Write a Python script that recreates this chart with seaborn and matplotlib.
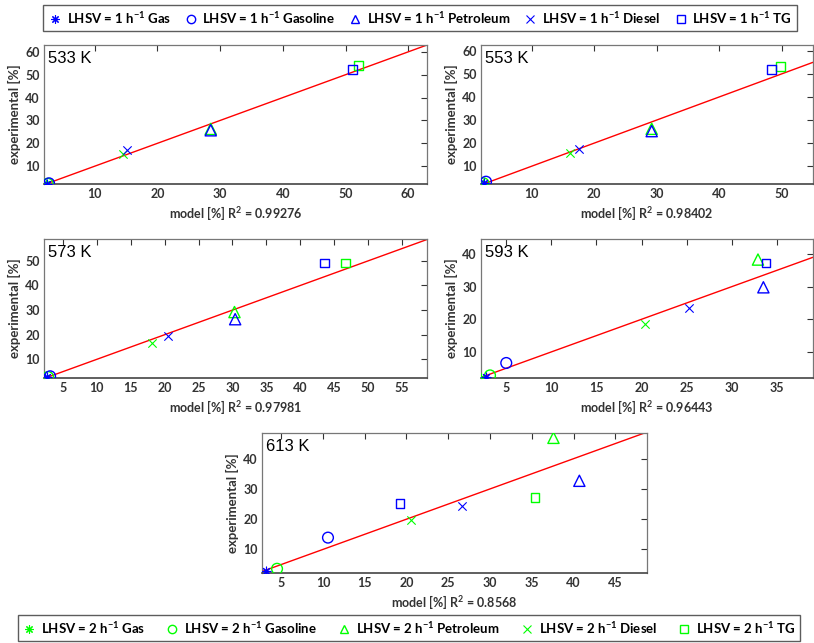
import numpy as np
import pandas as pd
import matplotlib
matplotlib.use("Agg")
import matplotlib.pyplot as plt
from matplotlib.lines import Line2D
import seaborn as sns

temps = ["533 K", "553 K", "573 K", "593 K", "613 K"]
r2 = ["0.99276", "0.98402", "0.97981", "0.96443", "0.8568"]
products = ["Gas", "Gasoline", "Petroleum", "Diesel", "TG"]

# model / experimental values, order = products
lhsv1_model = [
    [2.3, 2.7, 28.5, 15.2, 51.1],
    [2.4, 2.7, 29.2, 17.5, 48.4],
    [2.7, 3.1, 30.4, 20.5, 43.6],
    [2.8, 5.0, 33.5, 25.2, 33.8],
    [3.2, 10.6, 40.7, 26.7, 19.2],
]
lhsv1_exp = [
    [2.3, 2.5, 25.7, 16.9, 52.4],
    [2.8, 3.3, 25.2, 17.6, 51.8],
    [2.8, 3.1, 26.3, 19.3, 49.1],
    [2.3, 6.6, 29.8, 23.4, 37.3],
    [3.0, 13.9, 32.7, 24.3, 25.2],
]
lhsv2_model = [
    [2.2, 2.5, 28.5, 14.5, 52.1],
    [2.2, 2.3, 29.2, 16.2, 49.8],
    [2.4, 2.8, 30.3, 18.2, 46.7],
    [2.2, 3.2, 32.9, 20.4, np.nan],
    [np.nan, 4.5, 37.6, 20.5, 35.4],
]
lhsv2_exp = [
    [2.0, 2.3, 26.3, 15.3, 54.0],
    [2.4, 2.6, 26.2, 15.6, 53.1],
    [2.4, 2.8, 29.2, 16.8, 49.1],
    [2.1, 2.8, 38.3, 18.5, np.nan],
    [np.nan, 3.6, 46.9, 19.6, 27.2],
]

# axis settings
xlims = [(1.9, 63), (1.9, 55), (2.2, 58.7), (2.2, 39), (2.7, 48.8)]
ylims = [(2.2, 63), (2.3, 62.5), (2.4, 58.9), (2.0, 44.6), (2.2, 48.5)]
xticks = [range(10, 61, 10), range(10, 51, 10), range(5, 56, 5), range(5, 36, 5), range(5, 46, 5)]
yticks = [range(10, 61, 10), range(10, 61, 10), range(10, 51, 10), range(10, 41, 10), range(10, 41, 10)]

sns.set_theme(style="white")
plt.rcParams["font.family"] = ["Lato", "DejaVu Sans"]
plt.rcParams["mathtext.fontset"] = "custom"
plt.rcParams["mathtext.rm"] = "Lato:bold"
plt.rcParams["mathtext.it"] = "Lato:bold"
plt.rcParams["mathtext.bf"] = "Lato:bold"

W, H = 814, 643
fig = plt.figure(figsize=(W / 100, H / 100), dpi=100)

# pixel boxes: left, right, top, bottom
boxes = [(44, 427, 45, 184), (481, 813, 45, 184), (44, 427, 239, 378),
         (481, 813, 239, 378), (262, 647, 433, 573)]

asterisk = (8, 2, 0)
markers = {"Gas": asterisk, "Gasoline": "o", "Petroleum": "^", "Diesel": "x", "TG": "s"}
sizes = {"Gas": 40, "Gasoline": 60, "Petroleum": 65, "Diesel": 36, "TG": 38}
filled = {"Gas": False, "Gasoline": True, "Petroleum": True, "Diesel": False, "TG": True}
BLUE = "#0000ff"
GREEN = "#00ff00"

rows = []
for ti, t in enumerate(temps):
    for pi, p in enumerate(products):
        rows.append(dict(temp=t, product=p, lhsv=1, model=lhsv1_model[ti][pi], exp=lhsv1_exp[ti][pi]))
        rows.append(dict(temp=t, product=p, lhsv=2, model=lhsv2_model[ti][pi], exp=lhsv2_exp[ti][pi]))
df = pd.DataFrame(rows)

tick_col = "#333333"
for ti, t in enumerate(temps):
    l, r, tp, b = boxes[ti]
    ax = fig.add_axes([l / W, 1 - b / H, (r - l) / W, (b - tp) / H])
    ax.axline((0, 0), slope=1, color="red", lw=1.0, zorder=1)
    for lhsv, col in [(2, GREEN), (1, BLUE)]:
        for p in products:
            d = df[(df.temp == t) & (df["product"] == p) & (df.lhsv == lhsv)].dropna()
            if d.empty:
                continue
            if filled[p]:
                sns.scatterplot(data=d, x="model", y="exp", ax=ax, marker=markers[p], s=sizes[p],
                                facecolor="none", edgecolor=col, linewidth=1.0, zorder=3)
            else:
                sns.scatterplot(data=d, x="model", y="exp", ax=ax, marker=markers[p], s=sizes[p],
                                color=col, linewidth=0.8, zorder=3)
    ax.set_xlim(*xlims[ti])
    ax.set_ylim(*ylims[ti])
    ax.set_xticks(list(xticks[ti]))
    ax.set_yticks(list(yticks[ti]))
    ax.tick_params(direction="in", length=4, width=0.8, top=True, right=True, colors=tick_col,
                   labelsize=9, pad=3)
    for lab in ax.get_xticklabels() + ax.get_yticklabels():
        lab.set_fontweight("bold")
    for s in ax.spines.values():
        s.set_color("#777777")
        s.set_linewidth(0.9)
    ax.spines["bottom"].set_color("#444444")
    ax.spines["bottom"].set_linewidth(1.2)
    ax.set_xlabel(f"model [%] R$^2$ = {r2[ti]}", fontsize=9, fontweight="bold", color=tick_col, labelpad=3)
    ax.set_ylabel("experimental [%]", fontsize=9.5, fontweight="bold", color=tick_col, labelpad=3)
    ax.text(4 / (r - l), 1 - 6 / (b - tp), t, transform=ax.transAxes, ha="left", va="top", fontsize=12,
            family="Liberation Sans", color="black")

def handles_for(lhsv, col):
    hs = []
    for p in products:
        if filled[p]:
            h = Line2D([], [], ls="none", marker=markers[p], markersize=6, markerfacecolor="none",
                       markeredgecolor=col, markeredgewidth=1.0)
        else:
            h = Line2D([], [], ls="none", marker=markers[p], markersize=6, color=col, markeredgewidth=0.8)
        hs.append(h)
    labels = [f"LHSV = {lhsv} h$^{{-1}}$ {p}" for p in products]
    return hs, labels

for lhsv, col, yc, xc, cs in [(1, BLUE, 1 - 18 / H, 420 / W, 1.0), (2, GREEN, 1 - 628 / H, 409 / W, 1.55)]:
    hs, labels = handles_for(lhsv, col)
    leg = fig.legend(hs, labels, loc="center", bbox_to_anchor=(xc, yc), ncol=5, frameon=True,
                     prop={"weight": "bold", "size": 9.5}, handlelength=1.0,
                     handletextpad=0.4, columnspacing=cs, borderpad=0.35, fancybox=False)
    leg.get_frame().set_edgecolor("#333333")
    leg.get_frame().set_linewidth(1.0)
    for txt in leg.get_texts():
        txt.set_color("black")

fig.savefig("out.png", dpi=100)
